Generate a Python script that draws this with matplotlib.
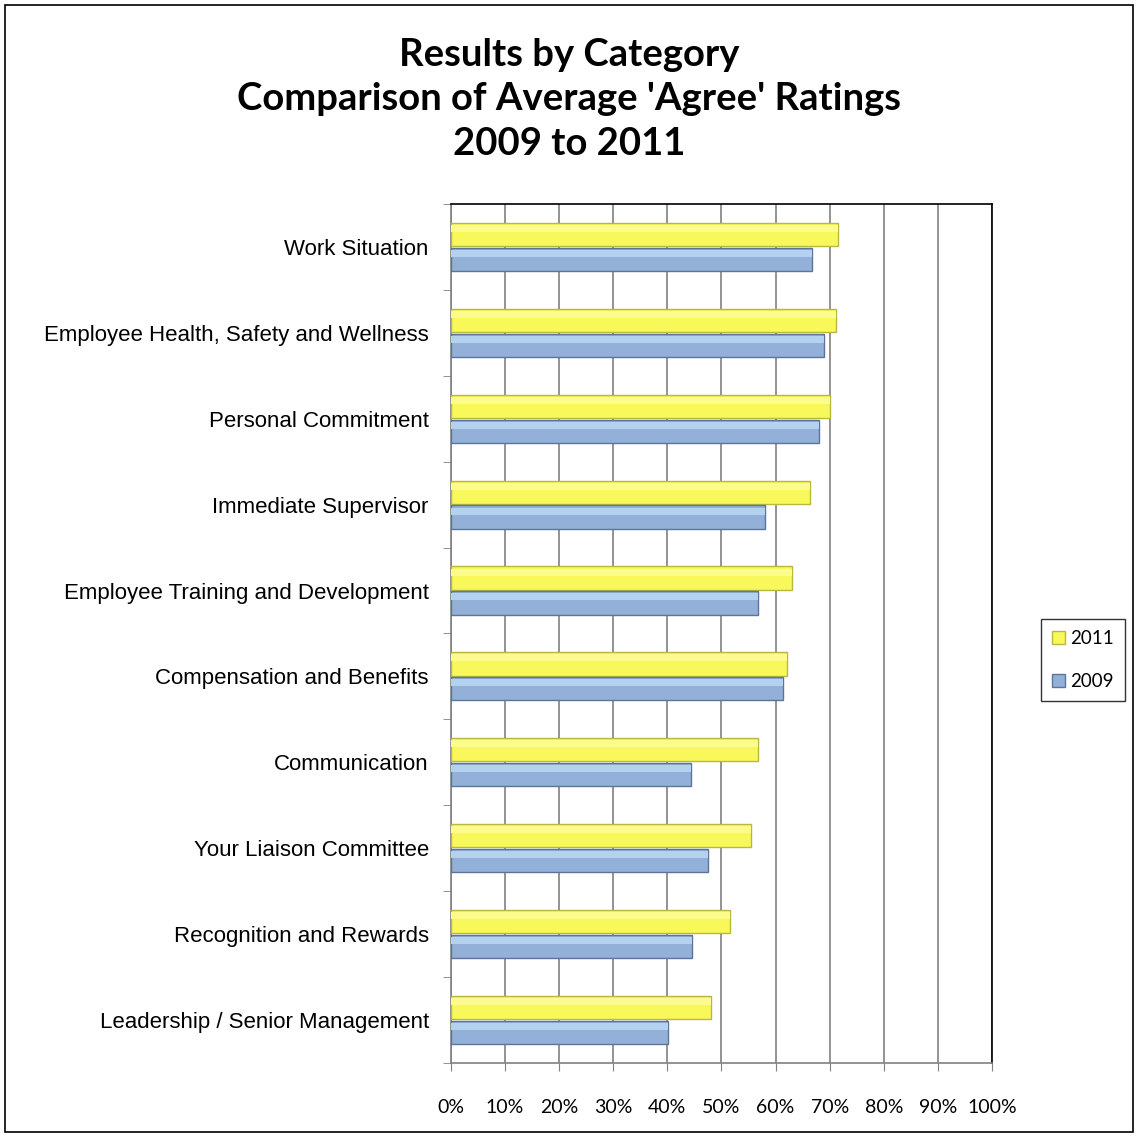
import numpy as np
import matplotlib
matplotlib.use("Agg")
import matplotlib.pyplot as plt
from matplotlib.patches import Rectangle

categories = ["Work Situation", "Employee Health, Safety and Wellness",
              "Personal Commitment", "Immediate Supervisor",
              "Employee Training and Development", "Compensation and Benefits",
              "Communication", "Your Liaison Committee",
              "Recognition and Rewards", "Leadership / Senior Management"]
vals_2011 = [71.6, 71.2, 70.1, 66.4, 63.0, 62.2, 56.8, 55.5, 51.6, 48.1]
vals_2009 = [66.7, 69.0, 68.0, 58.0, 56.7, 61.3, 44.3, 47.5, 44.5, 40.2]
xticks = list(range(0, 101, 10))

fig = plt.figure(figsize=(11.38, 11.37), dpi=100)
ax = fig.add_axes([0.3963, 0.0651, 0.4754, 0.7555])

n = len(categories)
y = np.arange(n)[::-1]
h = 0.27
off = 0.145
ax.barh(y + off, vals_2011, height=h, color="#F8F85A", edgecolor="#B8B840",
        linewidth=1.0, label="2011", zorder=3)
ax.barh(y - off, vals_2009, height=h, color="#92B0D8", edgecolor="#5C7499",
        linewidth=1.0, label="2009", zorder=3)
# soft bevel highlight along the top of each bar
ax.barh(y + off + h * 0.26, vals_2011, height=h * 0.3, color="#FCFC8C",
        linewidth=0, zorder=4)
ax.barh(y - off + h * 0.26, vals_2009, height=h * 0.3, color="#B4D2F0",
        linewidth=0, zorder=4)

ax.set_xlim(0, 100)
ax.set_ylim(-0.5, n - 0.5)
ax.set_xticks(xticks)
ax.set_xticklabels([f"{t}%" for t in xticks], fontsize=14, family="Lato")
ax.set_yticks(y)
ax.set_yticklabels(categories, fontsize=16, family="Liberation Sans")
ax.tick_params(axis="y", which="major", length=0, pad=16)
ax.set_yticks(np.arange(n + 1) - 0.5, minor=True)
ax.tick_params(axis="y", which="minor", length=6, color="#808080")
ax.tick_params(axis="x", length=6, color="#808080", pad=20)
ax.grid(axis="x", color="#808080", linewidth=1.2, zorder=0)
for s in ["top", "right"]:
    ax.spines[s].set_color("black")
    ax.spines[s].set_linewidth(1.2)
for s in ["left", "bottom"]:
    ax.spines[s].set_color("#808080")
    ax.spines[s].set_linewidth(1.2)

fig.text(0.5, 0.967, "Results by Category\nComparison of Average 'Agree' Ratings\n2009 to 2011",
         ha="center", va="top", fontsize=27.5, fontweight="bold", family="Lato",
         linespacing=1.38)

leg = ax.legend(loc="center left", bbox_to_anchor=(1.09, 0.469), frameon=True,
                fancybox=False, edgecolor="black", prop={"family": "Lato", "size": 13.5},
                handlelength=0.7, handleheight=0.7, handletextpad=0.25,
                labelspacing=1.4, borderpad=0.6, borderaxespad=0)
leg.get_frame().set_linewidth(1.0)

fig.patches.append(Rectangle((0.004, 0.004), 0.992, 0.992, transform=fig.transFigure,
                             fill=False, edgecolor="black", linewidth=1.2))

fig.savefig("out.png", dpi=100)
